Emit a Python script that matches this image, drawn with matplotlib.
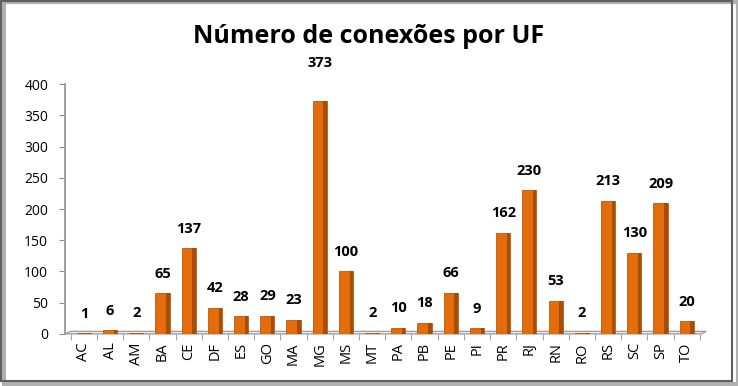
import matplotlib
matplotlib.use("Agg")
import matplotlib.pyplot as plt
from matplotlib.patches import Rectangle, Polygon

categories = ["AC", "AL", "AM", "BA", "CE", "DF", "ES", "GO", "MA", "MG", "MS", "MT", "PA",
              "PB", "PE", "PI", "PR", "RJ", "RN", "RO", "RS", "SC", "SP", "TO"]
values = [1, 6, 2, 65, 137, 42, 28, 29, 23, 373, 100, 2, 10, 18, 66, 9, 162, 230, 53, 2,
          213, 130, 209, 20]
yticks = [0, 50, 100, 150, 200, 250, 300, 350, 400]
title = "Número de conexões por UF"

plt.rcParams['font.family'] = ['Open Sans', 'DejaVu Sans']

fig = plt.figure(figsize=(7.38, 3.86), dpi=100)
fig.patch.set_facecolor("white")
ax = fig.add_axes([0.088, 0.135, 0.862, 0.647])

n = len(categories)
x = list(range(n))
bw = 0.54
front = "#E46C0A"
side = "#A64E06"

ax.bar(x, values, width=bw, color=front, edgecolor="#B85A10", linewidth=0.6, zorder=3)
side_w = 0.13
ax.bar([i + bw / 2 - side_w / 2 for i in x], values, width=side_w, color=side,
       linewidth=0, zorder=4)

# floor
floor = Polygon([(-0.72, 0), (n - 0.45, 0), (n - 0.25, 4), (-0.5, 4)], closed=True,
                facecolor="#f2f2f2", edgecolor="#a0a0a0", linewidth=1.0, zorder=1,
                clip_on=False)
ax.add_patch(floor)

vmax = max(values)
for xi, v in zip(x, values):
    off = 22 if v == vmax else 9
    ax.annotate(str(v), (xi, v), xytext=(0, off), textcoords="offset points",
                ha="center", va="bottom", fontsize=10.5, fontweight="bold", color="black")

ax.set_xlim(-0.72, n - 0.45)
ax.set_ylim(0, 400)
ax.set_yticks(yticks)
ax.set_yticklabels([str(t) for t in yticks], fontsize=10, color="black")
ax.set_xticks(x)
ax.set_xticklabels(categories, rotation=90, fontsize=10.5, color="black")
ax.set_xticks([i + 0.5 for i in range(-1, n)], minor=True)
ax.tick_params(axis="x", which="major", length=0, pad=6)
ax.tick_params(axis="x", which="minor", length=4, color="#909090")
ax.tick_params(axis="y", length=4, color="#909090", pad=8)

for s in ["top", "right"]:
    ax.spines[s].set_visible(False)
ax.spines["bottom"].set_visible(False)
ax.spines["left"].set_color("#909090")
ax.spines["left"].set_linewidth(1.2)

fig.text(0.5, 0.905, title, ha="center", va="center", fontsize=18, fontweight="bold",
         color="black")

# frame with shadow
fig.patches.append(Rectangle((0.006, 0.004), 0.994, 0.99, transform=fig.transFigure,
                             facecolor="none", edgecolor="#b0b0b0", linewidth=3,
                             zorder=0))
fig.patches.append(Rectangle((0.002, 0.012), 0.99, 0.985, transform=fig.transFigure,
                             facecolor="none", edgecolor="#606060", linewidth=1.5,
                             zorder=1))

fig.savefig("out.png", dpi=100)
